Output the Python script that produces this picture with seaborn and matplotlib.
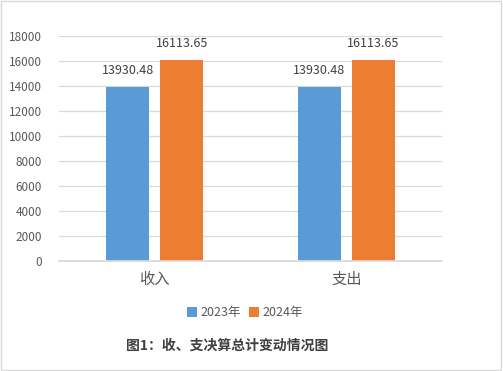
import matplotlib
matplotlib.use("Agg")
import matplotlib.pyplot as plt
import seaborn as sns
import pandas as pd
from matplotlib.patches import Rectangle

# data
categories = ["收入", "支出"]
years = ["2023年", "2024年"]
values_2023 = [13930.48, 13930.48]
values_2024 = [16113.65, 16113.65]
yticks = list(range(0, 18001, 2000))
title = "图1：收、支决算总计变动情况图"

df = pd.DataFrame({
    "cat": categories * 2,
    "year": [years[0]] * 2 + [years[1]] * 2,
    "value": values_2023 + values_2024,
})

sns.set_theme(style="white")
plt.rcParams["font.family"] = ["Noto Sans CJK SC", "DejaVu Sans"]

fig = plt.figure(figsize=(5.03, 3.71), dpi=100)
ax = fig.add_axes([0.117, 0.2965, 0.762, 0.6065])

sns.barplot(data=df, x="cat", y="value", hue="year",
            palette=["#5B9BD5", "#ED7D31"], saturation=1, width=0.565, gap=0.205,
            linewidth=0, ax=ax, legend=True)

for cont in ax.containers:
    ax.bar_label(cont, labels=[f"{v:.2f}" for v in cont.datavalues],
                 padding=7, fontsize=9, color="#404040")

ax.set_ylim(0, 18000)
ax.set_xlim(-0.5, 1.5)
ax.set_yticks(yticks)
ax.set_yticklabels([str(t) for t in yticks], fontsize=8.5, color="#595959")
ax.yaxis.grid(True, color="#D9D9D9", linewidth=0.9)
ax.set_axisbelow(True)
ax.set_xlabel("")
ax.set_ylabel("")
ax.tick_params(axis="y", length=0, pad=12)
ax.tick_params(axis="x", which="major", length=0, labelsize=11,
               labelcolor="#595959", pad=7)
ax.set_xticks([-0.5, 0.5, 1.5], minor=True)
ax.tick_params(axis="x", which="minor", length=5, color="#D9D9D9", width=0.9)
for s in ["top", "right", "left"]:
    ax.spines[s].set_visible(False)
ax.spines["bottom"].set_color("#D9D9D9")

leg = ax.legend(loc="center", bbox_to_anchor=(0.487, 0.157), bbox_transform=fig.transFigure,
                ncol=2, frameon=False, fontsize=9, handlelength=0.8, handleheight=0.8,
                handletextpad=0.3, columnspacing=0.6)
for t in leg.get_texts():
    t.set_color("#595959")

fig.text(0.452, 0.067, title, ha="center", va="center", fontsize=10,
         fontweight="bold", color="#404040")

fig.patches.append(Rectangle((0.002, 0.003), 0.995, 0.994, transform=fig.transFigure,
                             fill=False, edgecolor="#D9D9D9", linewidth=1))

fig.savefig("out.png", dpi=100)
